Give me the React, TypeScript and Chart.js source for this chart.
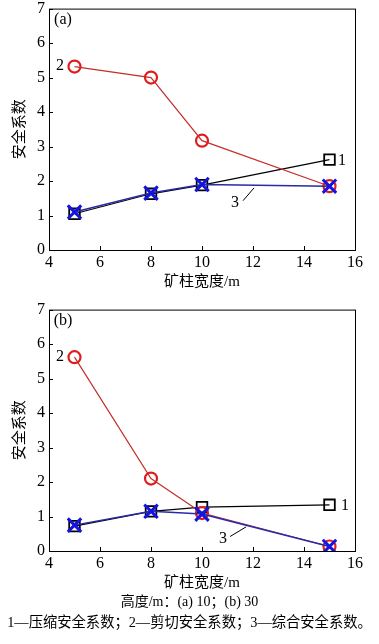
import React, { useEffect, useRef } from "react";
import { Chart, registerables } from "chart.js";

Chart.register(...registerables);

// ---- data ----
const widths = [5, 8, 10, 15];
const compressA = [1.05, 1.63, 1.88, 2.62];
const shearA = [5.32, 5.0, 3.17, 1.85];
const combinedA = [1.1, 1.65, 1.9, 1.85];
const compressB = [0.72, 1.15, 1.27, 1.34];
const shearB = [5.62, 2.1, 1.1, 0.13];
const combinedB = [0.75, 1.15, 1.07, 0.13];
const xTicks = [4, 6, 8, 10, 12, 14, 16];
const yTicks = [0, 1, 2, 3, 4, 5, 6, 7];
const xTitle = "矿柱宽度/m";
const yTitle = "安全系数";
const caption1 = "高度/m：(a) 10；(b) 30";
const caption2 = "1—压缩安全系数；2—剪切安全系数；3—综合安全系数。";

// annotation placements (data space)
const notesA = [
  { text: "2", x: 4.43, y: 5.34 },
  { text: "1", x: 15.49, y: 2.6 },
  { text: "3", x: 11.29, y: 1.37 },
];
const leaderA = { x1: 11.61, y1: 1.43, x2: 12.04, y2: 1.8 };
const notesB = [
  { text: "2", x: 4.43, y: 5.62 },
  { text: "1", x: 15.61, y: 1.31 },
  { text: "3", x: 10.82, y: 0.36 },
];
const leaderB = { x1: 11.1, y1: 0.42, x2: 11.73, y2: 0.7 };

const SERIF = "'Liberation Serif', 'Times New Roman', serif";
const MIXED = "'Liberation Serif', 'Noto Sans CJK SC', serif";

function pts(vals: number[]) {
  return widths.map((w, i) => ({ x: w, y: vals[i] }));
}

function decor(tag: string, notes: any[], leader: any) {
  return {
    id: "decor",
    afterDraw(chart: any) {
      const { ctx, chartArea: a, scales } = chart;
      const x = scales.x;
      const y = scales.y;
      ctx.save();
      ctx.strokeStyle = "#000";
      ctx.lineWidth = 1;
      ctx.strokeRect(a.left + 0.5, a.top + 0.5, a.right - a.left, a.bottom - a.top);
      ctx.beginPath();
      x.ticks.forEach((t: any) => {
        const px = Math.round(x.getPixelForValue(t.value)) + 0.5;
        ctx.moveTo(px, a.bottom);
        ctx.lineTo(px, a.bottom - 4);
      });
      y.ticks.forEach((t: any) => {
        const py = Math.round(y.getPixelForValue(t.value)) + 0.5;
        ctx.moveTo(a.left, py);
        ctx.lineTo(a.left + 4, py);
      });
      ctx.stroke();
      ctx.fillStyle = "#000";
      ctx.font = `16px ${SERIF}`;
      ctx.textAlign = "center";
      ctx.textBaseline = "middle";
      ctx.fillText(tag, a.left + 14, a.top + 11);
      notes.forEach((n) => {
        ctx.fillText(n.text, x.getPixelForValue(n.x), y.getPixelForValue(n.y));
      });
      ctx.beginPath();
      ctx.lineWidth = 1;
      ctx.moveTo(x.getPixelForValue(leader.x1), y.getPixelForValue(leader.y1));
      ctx.lineTo(x.getPixelForValue(leader.x2), y.getPixelForValue(leader.y2));
      ctx.stroke();
      ctx.restore();
    },
  };
}

function makeChart(canvas: HTMLCanvasElement, compress: number[], shear: number[], combined: number[], tag: string, notes: any[], leader: any) {
  return new Chart(canvas, {
    type: "line",
    data: {
      datasets: [
        {
          label: "3",
          data: pts(combined),
          borderColor: "#2a2aa8",
          borderWidth: 1.5,
          pointStyle: "crossRot",
          pointRadius: 9.5,
          pointBorderWidth: 3,
          pointBorderColor: "#1414e0",
          pointBackgroundColor: "transparent",
          backgroundColor: "transparent",
          order: 0,
        },
        {
          label: "2",
          data: pts(shear),
          borderColor: "#c4302c",
          borderWidth: 1.2,
          pointStyle: "circle",
          pointRadius: 6,
          pointBorderWidth: 2.2,
          pointBorderColor: "#e01c1c",
          pointBackgroundColor: "transparent",
          backgroundColor: "transparent",
          order: 1,
        },
        {
          label: "1",
          data: pts(compress),
          borderColor: "#000",
          borderWidth: 1.2,
          pointStyle: "rect",
          pointRadius: 7.5,
          pointBorderWidth: 1.8,
          pointBorderColor: "#000",
          pointBackgroundColor: "transparent",
          backgroundColor: "transparent",
          order: 2,
        },
      ],
    },
    options: {
      responsive: false,
      animation: false,
      devicePixelRatio: 1,
      layout: { padding: { top: 10, right: 24, left: 0, bottom: 0 } },
      plugins: { legend: { display: false }, tooltip: { enabled: false } },
      scales: {
        x: {
          type: "linear",
          min: 4,
          max: 16,
          grid: { display: false, drawTicks: false },
          border: { display: false },
          afterBuildTicks: (s: any) => {
            s.ticks = xTicks.map((v) => ({ value: v }));
          },
          afterFit: (s: any) => {
            s.height = 45;
          },
          ticks: { color: "#000", padding: 3, font: { family: SERIF, size: 16 }, maxRotation: 0, autoSkip: false },
          title: { display: true, text: xTitle, color: "#000", font: { family: MIXED, size: 15 }, padding: { top: 0, bottom: 4 } },
        },
        y: {
          type: "linear",
          min: 0,
          max: 7,
          grid: { display: false, drawTicks: false },
          border: { display: false },
          afterBuildTicks: (s: any) => {
            s.ticks = yTicks.map((v) => ({ value: v }));
          },
          afterFit: (s: any) => {
            s.width = 49;
          },
          ticks: { color: "#000", padding: 4, font: { family: SERIF, size: 16 }, autoSkip: false },
          title: { display: true, text: yTitle, color: "#000", font: { family: MIXED, size: 15 }, padding: { top: 11, bottom: 0 } },
        },
      },
    },
    plugins: [decor(tag, notes, leader)],
  } as any);
}

export default function App() {
  const refA = useRef<HTMLCanvasElement>(null);
  const refB = useRef<HTMLCanvasElement>(null);
  useEffect(() => {
    const a = makeChart(refA.current!, compressA, shearA, combinedA, "(a)", notesA, leaderA);
    const b = makeChart(refB.current!, compressB, shearB, combinedB, "(b)", notesB, leaderB);
    return () => {
      a.destroy();
      b.destroy();
    };
  }, []);
  return (
    <div style={{ position: "fixed", left: 0, top: 0, width: 379, height: 644, overflow: "hidden", background: "#fff" }}>
      <canvas ref={refA} width={379} height={300} style={{ position: "absolute", left: 0, top: -5, width: 379, height: 300 }} />
      <canvas ref={refB} width={379} height={300} style={{ position: "absolute", left: 0, top: 296, width: 379, height: 300 }} />
      <div style={{ position: "absolute", left: 0, top: 593, width: 379, textAlign: "center", font: `14px/18px ${MIXED}`, color: "#000" }}>{caption1}</div>
      <div style={{ position: "absolute", left: 0, top: 613, width: 379, textAlign: "center", font: `14.3px/18px ${MIXED}`, color: "#000", whiteSpace: "nowrap" }}>{caption2}</div>
    </div>
  );
}
